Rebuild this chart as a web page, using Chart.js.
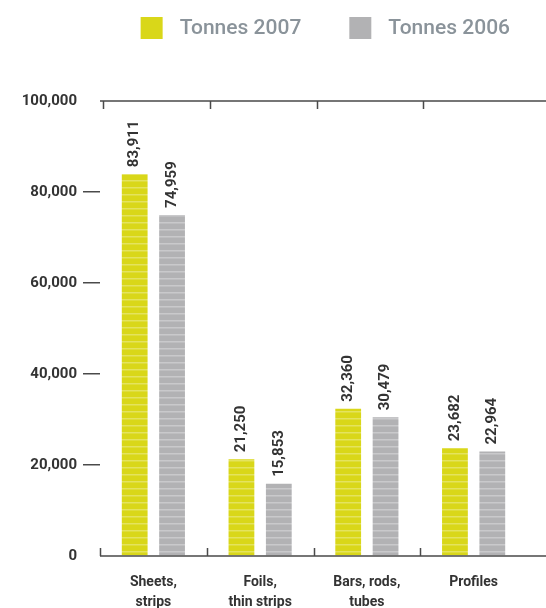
<!DOCTYPE html>
<html>
<head>
<meta charset="utf-8">
<script src="https://cdn.jsdelivr.net/npm/chart.js@4/dist/chart.umd.min.js"></script>
<style>
  html, body { margin: 0; padding: 0; background: #ffffff; }
  #wrap { width: 546px; height: 608px; position: relative; }
</style>
</head>
<body>
<div id="wrap"><canvas id="chart"></canvas></div>
<script>
// Semi-finished product shipments, tonnes
const categories = [["Sheets,", "strips"], ["Foils,", "thin strips"], ["Bars, rods,", "tubes"], ["Profiles"]];
const tonnes2007 = [83911, 21250, 32360, 23682];
const tonnes2006 = [74959, 15853, 30479, 22964];
const yTicks = [0, 20000, 40000, 60000, 80000, 100000];

const FONT = "Roboto";
const TEXT = "#333333";
const AXIS = "#4a4a4a";
const LEGEND_TEXT = "#8a939a";
const YELLOW = "#d9d719";
const GREY = "#b2b2b4";

// Horizontal pinstripe fill used for the bars
function stripes(base, light) {
  const c = document.createElement("canvas");
  c.width = 4; c.height = 7;
  const g = c.getContext("2d");
  g.fillStyle = base; g.fillRect(0, 0, 4, 7);
  g.fillStyle = light; g.fillRect(0, 5, 4, 1.5);
  return g.createPattern(c, "repeat");
}

const fmt = v => v.toLocaleString("en-US");

// Frame lines: top rule with downward ticks, baseline with upward ticks
const frame = {
  id: "frame",
  afterDraw(chart) {
    const { ctx, chartArea: a, scales: { x } } = chart;
    const n = chart.data.labels.length;
    const step = (x.getPixelForValue(1) - x.getPixelForValue(0));
    ctx.save();
    ctx.strokeStyle = AXIS;
    ctx.lineWidth = 1.5;
    ctx.beginPath();
    ctx.moveTo(a.left, a.top); ctx.lineTo(chart.width, a.top);
    ctx.moveTo(a.left, a.bottom); ctx.lineTo(chart.width, a.bottom);
    for (let i = 0; i < n; i++) {
      const px = Math.round(x.getPixelForValue(i) - step / 2) + 0.5;
      ctx.moveTo(px + 3, a.top); ctx.lineTo(px + 3, a.top + 8);
      ctx.moveTo(px, a.bottom); ctx.lineTo(px, a.bottom - 8);
    }
    ctx.stroke();
    ctx.restore();
  }
};

// Vertical value labels above each bar
const valueLabels = {
  id: "valueLabels",
  afterDatasetsDraw(chart) {
    const { ctx } = chart;
    ctx.save();
    ctx.fillStyle = TEXT;
    ctx.font = "bold 15px " + FONT;
    ctx.textAlign = "left";
    ctx.textBaseline = "middle";
    chart.data.datasets.forEach((ds, di) => {
      chart.getDatasetMeta(di).data.forEach((bar, i) => {
        ctx.save();
        ctx.translate(bar.x, bar.y - 7);
        ctx.rotate(-Math.PI / 2);
        ctx.fillText(fmt(ds.data[i]), 0, 0);
        ctx.restore();
      });
    });
    ctx.restore();
  }
};

// Legend row across the top, right-aligned
const seriesLegend = {
  id: "seriesLegend",
  afterDraw(chart) {
    const { ctx } = chart;
    const box = 22, gapText = 17, gapItem = 48, rightEdge = chart.width - 36, midY = 28;
    ctx.save();
    ctx.font = "500 21px " + FONT;
    ctx.textBaseline = "middle";
    ctx.textAlign = "left";
    const items = chart.data.datasets.map(ds => ({ text: ds.label, color: ds.solid, w: ctx.measureText(ds.label).width }));
    let total = 0;
    items.forEach((it, i) => { total += box + gapText + it.w + (i ? gapItem : 0); });
    let x = rightEdge - total;
    items.forEach((it, i) => {
      if (i) x += gapItem;
      ctx.fillStyle = it.color;
      ctx.fillRect(x, midY - box / 2, box, box);
      x += box + gapText;
      ctx.fillStyle = LEGEND_TEXT;
      ctx.fillText(it.text, x, midY + 1);
      x += it.w;
    });
    ctx.restore();
  }
};

new Chart(document.getElementById("chart"), {
  type: "bar",
  data: {
    labels: categories,
    datasets: [
      { label: "Tonnes 2007", data: tonnes2007, backgroundColor: stripes(YELLOW, "#e4e35e"), solid: YELLOW },
      { label: "Tonnes 2006", data: tonnes2006, backgroundColor: stripes(GREY, "#c9c9cb"), solid: GREY }
    ]
  },
  options: {
    responsive: true,
    maintainAspectRatio: false,
    animation: false,
    datasets: { bar: { categoryPercentage: 0.7, barPercentage: 0.69 } },
    layout: { padding: { left: 16, right: 19, top: 101, bottom: 0 } },
    plugins: {
      tooltip: { enabled: false },
      legend: { display: false }
    },
    scales: {
      x: {
        grid: { display: false, drawTicks: false },
        border: { display: false },
        ticks: {
          color: TEXT,
          padding: 16,
          font: { family: FONT, size: 14, weight: "bold", lineHeight: 1.45 },
          maxRotation: 0
        },
        afterFit(scale) { scale.height = 52; }
      },
      y: {
        min: 0,
        max: 100000,
        afterBuildTicks(scale) { scale.ticks = yTicks.map(v => ({ value: v })); },
        grid: {
          drawOnChartArea: false,
          drawTicks: true,
          tickLength: 17,
          lineWidth: 1.5,
          color: ctx => (ctx.tick && (ctx.tick.value === 0 || ctx.tick.value === 100000)) ? "rgba(0,0,0,0)" : AXIS
        },
        border: { display: false },
        ticks: {
          color: TEXT,
          padding: 6,
          font: { family: FONT, size: 15, weight: "bold" },
          callback: v => fmt(v)
        },
        afterFit(scale) { scale.width = 84; }
      }
    }
  },
  plugins: [frame, valueLabels, seriesLegend]
});
</script>
</body>
</html>
